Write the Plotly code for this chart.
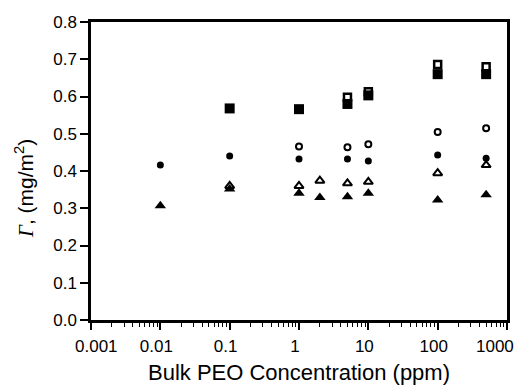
import plotly.graph_objects as go

# Filled squares
sq_f_x = [0.1, 1, 5, 10, 100, 500]
sq_f_y = [0.568, 0.566, 0.580, 0.603, 0.660, 0.660]
# Open squares
sq_o_x = [5, 10, 100, 500]
sq_o_y = [0.598, 0.613, 0.686, 0.680]
# Filled circles
ci_f_x = [0.01, 0.1, 1, 5, 10, 100, 500]
ci_f_y = [0.416, 0.440, 0.432, 0.432, 0.427, 0.443, 0.434]
# Open circles
ci_o_x = [1, 5, 10, 100, 500]
ci_o_y = [0.466, 0.464, 0.472, 0.505, 0.515]
# Filled triangles
tr_f_x = [0.01, 0.1, 1, 2, 5, 10, 100, 500]
tr_f_y = [0.307, 0.352, 0.340, 0.329, 0.331, 0.340, 0.322, 0.336]
# Open triangles
tr_o_x = [0.1, 1, 2, 5, 10, 100, 500]
tr_o_y = [0.360, 0.360, 0.374, 0.367, 0.371, 0.394, 0.416]

# Axis tick labels
x_tickvals = [0.001, 0.01, 0.1, 1, 10, 100, 1000]
x_ticktext = ["0.001", "0.01", "0.1", "1", "10", "100", "1000"]

fig = go.Figure()

def add(x, y, symbol, size, lw=0):
    fig.add_trace(go.Scatter(
        x=x, y=y, mode="markers", showlegend=False,
        marker=dict(symbol=symbol, size=size, color="black",
                    line=dict(color="black", width=lw))))

add(tr_o_x, tr_o_y, "triangle-up-open", 8, 2)
add(tr_f_x, tr_f_y, "triangle-up", 10)
add(ci_o_x, ci_o_y, "circle-open", 6, 2)
add(ci_f_x, ci_f_y, "circle", 7)
add(sq_f_x, sq_f_y, "square", 10)
add(sq_o_x, sq_o_y, "square-open", 7, 2.5)

FONT = "Liberation Sans, Arial, Helvetica, sans-serif"
L, R, T, B = 91, 10, 22, 67
W, H = 517, 387
pw, ph = W - L - R, H - T - B

# Tick labels: inner ones via the axis, edge labels (pushed inward in the reference) as annotations
inner_text = [""] + x_ticktext[1:-1] + [""]

fig.update_layout(
    width=W, height=H,
    margin=dict(l=L, r=R, t=T, b=B, autoexpand=False),
    paper_bgcolor="white", plot_bgcolor="white",
    font=dict(family=FONT, size=17, color="black"),
    xaxis=dict(
        type="log", range=[-3, 3], tickmode="array", automargin=False,
        tickvals=x_tickvals, ticktext=inner_text, ticklabelshift=-4, ticklabelstandoff=2,
        ticks="outside", ticklen=7, tickwidth=1.5, tickcolor="black",
        minor=dict(ticks="outside", ticklen=4, tickwidth=1, tickcolor="black",
                   tickmode="array",
                   tickvals=[m * 10 ** e for e in range(-3, 3) for m in range(2, 10)],
                   showgrid=False),
        showline=True, linewidth=2.5, linecolor="black", mirror=True,
        showgrid=False, zeroline=False,
        title=dict(text="Bulk PEO Concentration (ppm)", font=dict(size=22), standoff=10),
        tickfont=dict(size=17),
    ),
    yaxis=dict(
        range=[0, 0.8], tickmode="linear", tick0=0, dtick=0.1, tickformat=".1f",
        automargin=False,
        ticks="outside", ticklen=8, tickwidth=1.5, tickcolor="black",
        showline=True, linewidth=2.5, linecolor="black", mirror=True,
        showgrid=False, zeroline=False,
        tickfont=dict(size=17),
    ),
)

# edge x tick labels
fig.add_annotation(text=x_ticktext[0], xref="paper", yref="paper",
                   x=(96 - L) / pw, y=(H - B - 346) / ph, xanchor="center", yanchor="middle",
                   showarrow=False, font=dict(size=17))
fig.add_annotation(text=x_ticktext[-1], xref="paper", yref="paper",
                   x=(495 - L) / pw, y=(H - B - 346) / ph, xanchor="center", yanchor="middle",
                   showarrow=False, font=dict(size=17))

# y-axis title
fig.add_annotation(
    text="<i><span style='font-family:Liberation Serif, Times New Roman, serif'>Γ</span></i>, (mg/m<sup>2</sup>)",
    xref="paper", yref="paper", x=(24 - L) / pw, y=(H - B - 189) / ph,
    xanchor="center", yanchor="middle", textangle=-90, showarrow=False,
    font=dict(size=21))

fig.write_html("out.html")
